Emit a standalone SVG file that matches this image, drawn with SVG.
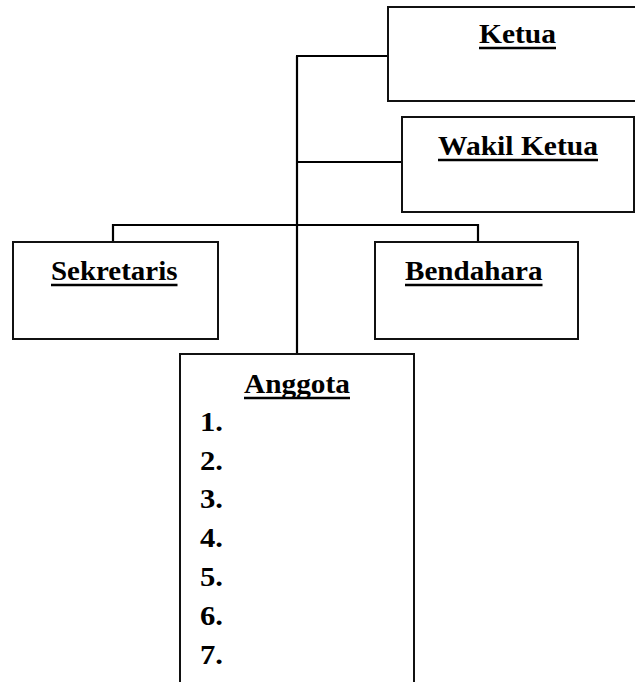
<svg xmlns="http://www.w3.org/2000/svg" width="635" height="682" viewBox="0 0 635 682">
<style>
.box{fill:#fff;stroke:#111;stroke-width:2}
.con{stroke:#000;stroke-width:2.2;fill:none}
.u{stroke:#000;stroke-width:2.4}
</style>
<rect width="635" height="682" fill="#fff"/>
<g id="connectors">
<line class="con" x1="297" y1="56" x2="297" y2="354"/>
<line class="con" x1="296" y1="56" x2="388" y2="56"/>
<line class="con" x1="297" y1="162" x2="402" y2="162"/>
<polyline class="con" points="113,242 113,225 478,225 478,241"/>
</g>
<g font-family="Liberation Serif, serif" font-weight="700" font-size="28" fill="#000">
<g id="ketua">
<rect class="box" x="388" y="7" width="260" height="94"/>
<text x="479" y="43" textLength="77" lengthAdjust="spacingAndGlyphs">Ketua</text>
<line class="u" x1="479" y1="48" x2="556" y2="48"/>
</g>
<g id="wakil-ketua">
<rect class="box" x="402" y="117" width="232" height="95"/>
<text x="438" y="155" textLength="160" lengthAdjust="spacingAndGlyphs">Wakil Ketua</text>
<line class="u" x1="438" y1="160" x2="598" y2="160"/>
</g>
<g id="sekretaris">
<rect class="box" x="13" y="242" width="205" height="97"/>
<text x="51" y="280" textLength="126.5" lengthAdjust="spacingAndGlyphs">Sekretaris</text>
<line class="u" x1="51" y1="285" x2="177.5" y2="285"/>
</g>
<g id="bendahara">
<rect class="box" x="375" y="242" width="203" height="97"/>
<text x="405" y="280" textLength="137.5" lengthAdjust="spacingAndGlyphs">Bendahara</text>
<line class="u" x1="405" y1="285" x2="542.5" y2="285"/>
</g>
<g id="anggota">
<rect class="box" x="180" y="354" width="234" height="340"/>
<text x="244" y="393" textLength="106" lengthAdjust="spacingAndGlyphs">Anggota</text>
<line class="u" x1="244" y1="398" x2="350" y2="398"/>
<text x="200" y="431" textLength="23" lengthAdjust="spacingAndGlyphs">1.</text>
<text x="200" y="469.5" textLength="23" lengthAdjust="spacingAndGlyphs">2.</text>
<text x="200" y="508" textLength="23" lengthAdjust="spacingAndGlyphs">3.</text>
<text x="200" y="547" textLength="23" lengthAdjust="spacingAndGlyphs">4.</text>
<text x="200" y="586" textLength="23" lengthAdjust="spacingAndGlyphs">5.</text>
<text x="200" y="624.5" textLength="23" lengthAdjust="spacingAndGlyphs">6.</text>
<text x="200" y="664" textLength="23" lengthAdjust="spacingAndGlyphs">7.</text>
</g>
</g>
</svg>
